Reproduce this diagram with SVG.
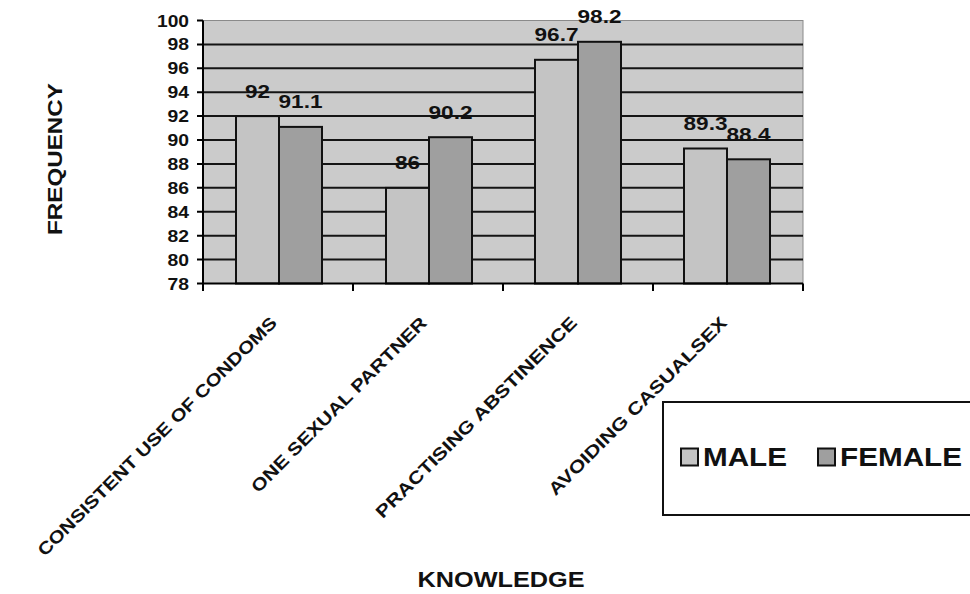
<svg xmlns="http://www.w3.org/2000/svg" width="970" height="594" viewBox="0 0 970 594">
<style>
.bg{fill:#ffffff}
.plot{fill:#cbcbcb;stroke:#8a8a8a;stroke-width:1}
.grid{stroke:#141414;stroke-width:2}
.axis{stroke:#000;stroke-width:2;fill:none}
.male{fill:#c4c4c4;stroke:#111;stroke-width:2}
.female{fill:#9f9f9f;stroke:#111;stroke-width:2}
.lbl{font-family:"Liberation Sans",Arial,sans-serif;font-weight:bold;fill:#111}
.ytick{font-size:16.5px;text-anchor:end}
.val{font-size:19px;text-anchor:middle}
.cat{font-size:17.5px;text-anchor:end}
.legend{fill:none;stroke:#111;stroke-width:2}
</style>
<rect class="bg" x="0" y="0" width="970" height="594"/>
<g id="plot-area">
<rect class="plot" x="203" y="20.5" width="600" height="263"/>
</g>
<g id="gridlines">
<line class="grid" x1="203" y1="44.4" x2="803" y2="44.4"/>
<line class="grid" x1="203" y1="68.3" x2="803" y2="68.3"/>
<line class="grid" x1="203" y1="92.2" x2="803" y2="92.2"/>
<line class="grid" x1="203" y1="116.1" x2="803" y2="116.1"/>
<line class="grid" x1="203" y1="140" x2="803" y2="140"/>
<line class="grid" x1="203" y1="163.9" x2="803" y2="163.9"/>
<line class="grid" x1="203" y1="187.8" x2="803" y2="187.8"/>
<line class="grid" x1="203" y1="211.8" x2="803" y2="211.8"/>
<line class="grid" x1="203" y1="235.7" x2="803" y2="235.7"/>
<line class="grid" x1="203" y1="259.6" x2="803" y2="259.6"/>
</g>
<g id="bars">
<g id="bar-condoms">
<rect class="male" x="236" y="116.1" width="43" height="167.4"/>
<rect class="female" x="279" y="126.9" width="43" height="156.6"/>
</g>
<g id="bar-one-partner">
<rect class="male" x="386" y="187.9" width="43" height="95.6"/>
<rect class="female" x="429" y="137.2" width="43" height="146.3"/>
</g>
<g id="bar-abstinence">
<rect class="male" x="535" y="59.8" width="43" height="223.7"/>
<rect class="female" x="578" y="41.8" width="43" height="241.7"/>
</g>
<g id="bar-casualsex">
<rect class="male" x="684" y="148.5" width="43" height="135"/>
<rect class="female" x="727" y="159.3" width="43" height="124.2"/>
</g>
</g>
<g id="axes">
<path class="axis" d="M203 20.5 V283.5 H803 M197 20.5 H203 M197 44.4 H203 M197 68.3 H203 M197 92.2 H203 M197 116.1 H203 M197 140 H203 M197 163.9 H203 M197 187.8 H203 M197 211.8 H203 M197 235.7 H203 M197 259.6 H203 M197 283.5 H203 M203 283.5 V291 M353 283.5 V291 M503 283.5 V291 M653 283.5 V291 M803 283.5 V291"/>
</g>
<g id="y-labels" class="lbl ytick">
<text x="189" y="26.5" textLength="32" lengthAdjust="spacingAndGlyphs">100</text>
<text x="189" y="50.4" textLength="21.5" lengthAdjust="spacingAndGlyphs">98</text>
<text x="189" y="74.3" textLength="21.5" lengthAdjust="spacingAndGlyphs">96</text>
<text x="189" y="98.2" textLength="21.5" lengthAdjust="spacingAndGlyphs">94</text>
<text x="189" y="122.1" textLength="21.5" lengthAdjust="spacingAndGlyphs">92</text>
<text x="189" y="146" textLength="21.5" lengthAdjust="spacingAndGlyphs">90</text>
<text x="189" y="169.9" textLength="21.5" lengthAdjust="spacingAndGlyphs">88</text>
<text x="189" y="193.8" textLength="21.5" lengthAdjust="spacingAndGlyphs">86</text>
<text x="189" y="217.8" textLength="21.5" lengthAdjust="spacingAndGlyphs">84</text>
<text x="189" y="241.7" textLength="21.5" lengthAdjust="spacingAndGlyphs">82</text>
<text x="189" y="265.6" textLength="21.5" lengthAdjust="spacingAndGlyphs">80</text>
<text x="189" y="289.5" textLength="21.5" lengthAdjust="spacingAndGlyphs">78</text>
</g>
<g id="value-labels" class="lbl val">
<text x="257.5" y="97.5" textLength="25" lengthAdjust="spacingAndGlyphs">92</text>
<text x="300.5" y="108" textLength="44" lengthAdjust="spacingAndGlyphs">91.1</text>
<text x="407.5" y="169.3" textLength="25" lengthAdjust="spacingAndGlyphs">86</text>
<text x="450.5" y="118.5" textLength="44" lengthAdjust="spacingAndGlyphs">90.2</text>
<text x="556.5" y="41.2" textLength="44" lengthAdjust="spacingAndGlyphs">96.7</text>
<text x="599.5" y="23.2" textLength="44" lengthAdjust="spacingAndGlyphs">98.2</text>
<text x="705.5" y="129.9" textLength="44" lengthAdjust="spacingAndGlyphs">89.3</text>
<text x="748.5" y="140.6" textLength="44" lengthAdjust="spacingAndGlyphs">88.4</text>
</g>
<g id="category-labels" class="lbl cat">
<text transform="translate(278,324) rotate(-45)" textLength="330" lengthAdjust="spacingAndGlyphs">CONSISTENT USE OF CONDOMS</text>
<text transform="translate(428,324) rotate(-45)" textLength="240" lengthAdjust="spacingAndGlyphs">ONE SEXUAL PARTNER</text>
<text transform="translate(578,324) rotate(-45)" textLength="276" lengthAdjust="spacingAndGlyphs">PRACTISING ABSTINENCE</text>
<text transform="translate(728,324) rotate(-45)" textLength="244" lengthAdjust="spacingAndGlyphs">AVOIDING CASUALSEX</text>
</g>
<g id="axis-titles" class="lbl">
<text transform="translate(62,159) rotate(-90)" font-size="21" text-anchor="middle" textLength="152" lengthAdjust="spacingAndGlyphs">FREQUENCY</text>
<text x="501" y="587" font-size="22" text-anchor="middle" textLength="167" lengthAdjust="spacingAndGlyphs">KNOWLEDGE</text>
</g>
<g id="legend">
<rect class="legend" x="663" y="402" width="320" height="113"/>
<rect class="male" x="681" y="448.5" width="17" height="17"/>
<text class="lbl" x="703" y="466" font-size="25" textLength="84" lengthAdjust="spacingAndGlyphs">MALE</text>
<rect class="female" x="818" y="448.5" width="17" height="17"/>
<text class="lbl" x="840" y="466" font-size="25" textLength="122" lengthAdjust="spacingAndGlyphs">FEMALE</text>
</g>
</svg>
